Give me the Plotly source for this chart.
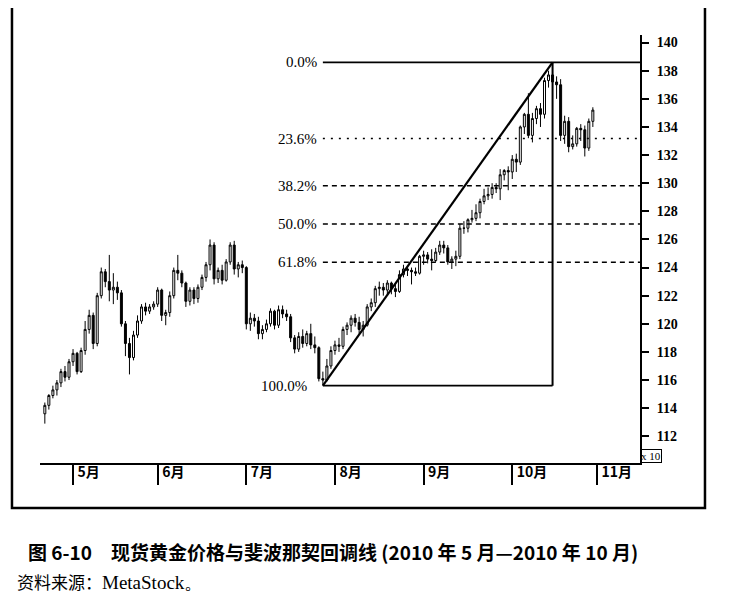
import numpy as np
import pandas as pd
import plotly.graph_objects as go

# spot gold, daily bars (price / 10), 2010-04-22 .. 2010-10-29, weekdays
START, END = "2010-04-22", "2010-10-29"
MONTHS = ["5月", "6月", "7月", "8月", "9月", "10月", "11月"]
FIB_LEVELS = [0.0, 23.6, 38.2, 50.0, 61.8, 100.0]
FIB_LOW_DATE, FIB_HIGH_DATE = "2010-07-28", "2010-10-15"
Y_TICKS = list(range(112, 141, 2))

OPEN = [113.6, 114.2, 114.9, 115.3, 115.8, 116.6, 116.2, 117.3, 117.9, 116.6,
        118.1, 119.6, 120.6, 118.6, 122.0, 123.7, 123.0, 122.4, 122.6, 122.2,
        120.0, 118.6, 117.6, 119.2, 120.2, 121.2, 120.9, 121.2, 121.4, 122.4,
        120.6, 120.8, 122.0, 123.8, 123.6, 122.9, 121.6, 122.4, 121.8, 122.6,
        123.3, 124.2, 125.6, 123.2, 123.8, 123.1, 124.4, 125.6, 123.9, 124.2,
        124.0, 120.0, 120.4, 120.2, 119.3, 119.6, 120.0, 120.9, 119.9, 121.0,
        120.7, 120.5, 119.0, 118.2, 119.1, 118.6, 119.3, 118.5, 118.3, 116.1,
        116.0, 117.0, 118.1, 118.5, 118.4, 119.6, 119.9, 120.4, 120.1, 119.6,
        119.9, 121.2, 121.5, 122.5, 122.6, 122.4, 122.9, 122.5, 122.3, 123.5,
        123.9, 123.8, 123.7, 123.6, 124.8, 124.9, 124.6, 124.5, 125.1, 125.6,
        125.4, 124.4, 124.6, 124.8, 126.8, 126.8, 127.4, 127.5, 127.9, 128.7,
        129.1, 129.2, 129.7, 129.6, 130.6, 130.9, 130.8, 131.7, 131.5, 134.0,
        134.9, 133.4, 134.6, 135.3, 134.9, 137.3, 137.7, 137.2, 137.0, 133.4,
        134.4, 132.6, 132.8, 133.9, 133.8, 132.5, 134.4]
HIGH = [114.4, 115.0, 115.6, 116.0, 116.8, 117.0, 117.5, 118.2, 118.0, 118.3,
        120.2, 121.0, 120.8, 122.2, 124.0, 123.9, 124.9, 123.6, 123.0, 122.4,
        120.2, 119.0, 119.5, 120.6, 121.4, 121.5, 121.4, 121.6, 122.6, 122.5,
        121.0, 122.3, 124.0, 124.9, 123.8, 123.0, 122.6, 122.6, 122.8, 123.5,
        124.4, 126.0, 125.8, 124.0, 124.2, 124.6, 125.8, 125.9, 124.4, 124.5,
        124.1, 120.8, 120.7, 120.5, 119.9, 120.3, 121.1, 121.0, 121.3, 121.3,
        121.0, 120.7, 119.2, 119.4, 119.6, 119.5, 120.0, 119.1, 118.4, 116.6,
        117.5, 118.4, 118.8, 119.0, 119.8, 120.1, 120.6, 120.7, 120.5, 120.2,
        121.4, 121.8, 122.7, 123.0, 122.9, 123.1, 123.0, 122.9, 123.8, 124.2,
        124.1, 124.0, 124.0, 124.9, 125.2, 125.1, 125.3, 125.4, 125.9, 125.9,
        125.6, 124.8, 125.2, 127.1, 127.3, 127.5, 128.1, 128.5, 128.9, 129.6,
        129.7, 130.0, 130.0, 131.0, 131.0, 131.2, 132.0, 132.1, 134.1, 135.0,
        136.4, 135.0, 135.5, 135.7, 137.5, 138.0, 138.6, 137.6, 137.4, 134.8,
        134.7, 133.4, 134.0, 134.2, 134.1, 134.6, 135.4]
LOW = [112.9, 113.9, 114.7, 114.9, 115.5, 115.9, 116.0, 117.0, 116.4, 116.5,
       117.8, 119.3, 118.2, 118.4, 121.8, 122.6, 121.6, 121.4, 121.7, 119.8,
       117.7, 116.4, 117.4, 119.0, 120.0, 120.6, 120.7, 121.0, 121.2, 120.2,
       119.9, 120.5, 121.8, 123.1, 122.6, 121.2, 121.3, 121.4, 121.5, 122.4,
       123.0, 123.8, 122.8, 122.9, 122.8, 123.0, 124.2, 123.5, 123.3, 123.6,
       119.6, 119.5, 119.8, 118.9, 118.9, 119.4, 119.8, 119.6, 119.7, 120.4,
       120.2, 118.7, 117.9, 118.0, 118.3, 118.4, 118.2, 117.9, 115.9, 115.6,
       115.9, 116.8, 117.8, 118.0, 118.2, 119.2, 119.4, 119.8, 119.3, 119.1,
       119.8, 120.9, 121.2, 122.0, 122.0, 122.1, 122.1, 121.9, 122.2, 123.3,
       123.4, 122.8, 123.4, 123.5, 124.2, 124.3, 123.8, 124.4, 124.9, 125.0,
       124.2, 123.9, 124.1, 124.6, 126.4, 126.5, 127.2, 127.3, 127.5, 128.5,
       128.8, 128.9, 129.3, 128.8, 130.2, 129.5, 130.3, 130.8, 131.3, 133.5,
       133.2, 132.9, 134.2, 134.0, 134.6, 136.8, 136.6, 136.0, 133.0, 132.8,
       132.2, 132.4, 132.6, 133.0, 131.9, 132.3, 134.0]
CLOSE = [114.2, 114.9, 115.3, 115.8, 116.6, 116.2, 117.3, 117.9, 116.6, 118.1,
         119.6, 120.6, 118.6, 122.0, 123.7, 123.0, 122.4, 122.6, 122.2, 120.0,
         118.6, 117.6, 119.2, 120.2, 121.2, 120.9, 121.2, 121.4, 122.4, 120.6,
         120.8, 122.0, 123.8, 123.6, 122.9, 121.6, 122.4, 121.8, 122.6, 123.3,
         124.2, 125.6, 123.2, 123.8, 123.1, 124.4, 125.6, 123.9, 124.2, 124.0,
         120.0, 120.4, 120.2, 119.3, 119.6, 120.0, 120.9, 119.9, 121.0, 120.7,
         120.5, 119.0, 118.2, 119.1, 118.6, 119.3, 118.5, 118.3, 116.1, 116.0,
         117.0, 118.1, 118.5, 118.4, 119.6, 119.9, 120.4, 120.1, 119.6, 119.9,
         121.2, 121.5, 122.5, 122.6, 122.4, 122.9, 122.5, 122.3, 123.5, 123.9,
         123.8, 123.7, 123.6, 124.8, 124.9, 124.6, 124.5, 125.1, 125.6, 125.4,
         124.4, 124.6, 124.8, 126.8, 126.8, 127.4, 127.5, 127.9, 128.7, 129.1,
         129.2, 129.7, 129.6, 130.6, 130.9, 130.8, 131.7, 131.5, 134.0, 134.9,
         133.4, 134.6, 135.3, 134.9, 137.3, 137.7, 137.2, 137.0, 133.4, 134.4,
         132.6, 132.8, 133.9, 133.8, 132.5, 134.4, 135.2]

days = pd.bdate_range(START, END)
x = np.arange(len(days))
cal = pd.bdate_range(START, "2010-11-30")
month_ticks = [i for i in range(1, len(cal)) if cal[i].month != cal[i - 1].month][:len(MONTHS)]

X_RANGE = [-1.2, 147.7]
Y_RANGE = [110.1, 140.54]

fig = go.Figure()
fig.add_trace(go.Candlestick(
    x=x, open=OPEN, high=HIGH, low=LOW, close=CLOSE,
    increasing=dict(line=dict(color="black", width=1), fillcolor="white"),
    decreasing=dict(line=dict(color="black", width=1), fillcolor="black"),
    whiskerwidth=0, showlegend=False, hoverinfo="skip"))

# fibonacci retracement from the July low to the October high
lo_i = days.get_loc(pd.Timestamp(FIB_LOW_DATE))
hi_i = days.get_loc(pd.Timestamp(FIB_HIGH_DATE))
L, H = LOW[lo_i], HIGH[hi_i]
line_style = {0.0: "solid", 23.6: "2px,6px", 38.2: "5px,4px", 50.0: "5px,4px",
              61.8: "5px,4px", 100.0: "solid"}
for lvl in FIB_LEVELS:
    v = H - lvl / 100 * (H - L)
    x_end = hi_i if lvl == 100.0 else X_RANGE[1]
    fig.add_shape(type="line", x0=lo_i, x1=x_end, y0=v, y1=v, xref="x", yref="y",
                  line=dict(color="black", width=1.8 if lvl in (0.0, 100.0) else 1.5,
                            dash=line_style[lvl]))
    fig.add_annotation(x=lo_i, y=v, text=f"{lvl:.1f}%", showarrow=False,
                       xanchor="right", yanchor="middle",
                       xshift=-14 if lvl == 100.0 else -4,
                       font=dict(family="Liberation Serif", size=15, color="black"))
fig.add_shape(type="line", x0=lo_i, y0=L, x1=hi_i, y1=H, line=dict(color="black", width=2.2))
fig.add_shape(type="line", x0=hi_i, y0=H, x1=hi_i, y1=L, line=dict(color="black", width=2))

# outer frame
fig.add_shape(type="rect", xref="paper", yref="paper", x0=-0.0467, x1=1.1083, y0=-0.1051, y1=1.0701,
              line=dict(color="black", width=2.5))

fig.add_annotation(xref="paper", yref="paper", x=1.0, y=0.0, xanchor="left", yanchor="bottom",
                   text="x 10", showarrow=False, bordercolor="black", borderwidth=1, borderpad=0,
                   font=dict(family="Liberation Serif", size=11, color="black"))
fig.add_annotation(xref="paper", yref="paper", x=-0.0233, y=-0.2072, xanchor="left", yanchor="middle",
                   text="<b>图 6-10　现货黄金价格与斐波那契回调线 (2010 年 5 月—2010 年 10 月)</b>",
                   showarrow=False, font=dict(family="Noto Sans CJK SC", size=19, color="black"))
fig.add_annotation(xref="paper", yref="paper", x=-0.0417, y=-0.2773, xanchor="left", yanchor="middle",
                   text="<span style='font-family:Noto Sans CJK SC;font-size:17px'>资料来源：</span>MetaStock。",
                   showarrow=False, font=dict(family="Liberation Serif", size=19, color="black"))

# page body has an 8px margin, so the figure is 8px smaller than the window
fig.update_layout(
    width=721, height=589,
    margin=dict(l=32, r=89, t=27, b=134),
    paper_bgcolor="white", plot_bgcolor="white",
    xaxis=dict(range=X_RANGE, rangeslider=dict(visible=False), showgrid=False, zeroline=False,
               tickvals=month_ticks, ticktext=MONTHS, ticks="outside", ticklen=20, tickwidth=1.5,
               tickcolor="black", ticklabelposition="outside right", ticklabelstandoff=-5,
               ticklabelshift=3, showline=True, linecolor="black", linewidth=1.5,
               tickfont=dict(family="Noto Sans CJK SC", size=14, color="black", weight="bold")),
    yaxis=dict(range=Y_RANGE, side="right", showgrid=False, zeroline=False,
               tickvals=Y_TICKS, ticks="outside", ticklen=7, tickwidth=1.5, tickcolor="black",
               ticklabelstandoff=5, showline=True, linecolor="black", linewidth=2,
               tickfont=dict(family="Liberation Serif", size=14, color="black", weight="bold")),
)

fig.write_html("out.html")
